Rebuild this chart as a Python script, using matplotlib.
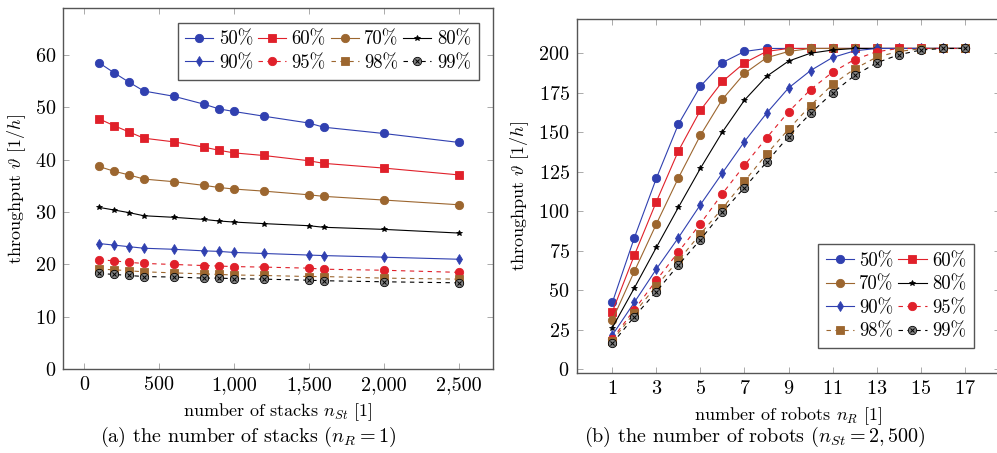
import matplotlib
matplotlib.use('Agg')
import matplotlib.pyplot as plt
from matplotlib.ticker import FuncFormatter

plt.rcParams['font.family'] = 'cmr10'
plt.rcParams['mathtext.fontset'] = 'cm'
plt.rcParams['axes.formatter.use_mathtext'] = True

# ---- data ----
labels = ['50%', '60%', '70%', '80%', '90%', '95%', '98%', '99%']

stacks = [100, 200, 300, 400, 600, 800, 900, 1000, 1200, 1500, 1600, 2000, 2500]
tp_stacks = [
    [58.5, 56.6, 54.8, 53.1, 52.1, 50.6, 49.7, 49.2, 48.3, 47.0, 46.2, 45.0, 43.3],
    [47.8, 46.5, 45.3, 44.1, 43.4, 42.4, 41.8, 41.3, 40.8, 39.8, 39.3, 38.4, 37.1],
    [38.7, 37.8, 37.1, 36.3, 35.8, 35.1, 34.7, 34.4, 34.0, 33.3, 33.0, 32.3, 31.4],
    [30.9, 30.4, 29.9, 29.3, 29.0, 28.6, 28.3, 28.1, 27.8, 27.4, 27.1, 26.7, 26.0],
    [24.0, 23.7, 23.4, 23.1, 22.9, 22.6, 22.5, 22.3, 22.1, 21.8, 21.7, 21.4, 21.0],
    [20.9, 20.7, 20.4, 20.2, 20.0, 19.8, 19.7, 19.6, 19.5, 19.3, 19.1, 18.9, 18.5],
    [19.1, 19.0, 18.8, 18.6, 18.4, 18.2, 18.1, 18.0, 17.9, 17.7, 17.7, 17.4, 17.2],
    [18.3, 18.1, 17.9, 17.7, 17.6, 17.4, 17.4, 17.3, 17.2, 17.0, 16.9, 16.7, 16.5],
]

robots = list(range(1, 18))
tp_robots = [
    [42.3, 83.3, 120.9, 155.1, 179.1, 194.1, 201.1, 203, 203, 203, 203, 203, 203, 203, 203, 203, 203],
    [36.4, 72.2, 106.1, 138.2, 163.9, 182.1, 193.9, 201.1, 203, 203, 203, 203, 203, 203, 203, 203, 203],
    [31.2, 62.0, 92.0, 121.1, 148.1, 170.9, 187.2, 197.1, 201.1, 203, 203, 203, 203, 203, 203, 203, 203],
    [26.4, 51.5, 77.2, 102.5, 127.2, 150.2, 170.3, 185.3, 195.0, 200.0, 202.0, 203, 203, 203, 203, 203, 203],
    [21.7, 42.4, 63.5, 83.3, 104.2, 124.3, 144.1, 162.0, 178.0, 189.0, 197.3, 201.5, 203, 203, 203, 203, 203],
    [19.3, 37.8, 56.4, 74.3, 92.2, 111.2, 129.1, 146.4, 162.9, 177.0, 188.0, 196.0, 200.9, 203, 203, 203, 203],
    [18.2, 35.8, 52.8, 69.0, 85.7, 101.9, 119.0, 136.1, 151.9, 166.9, 180.2, 190.1, 197.5, 201.1, 202.8, 203, 203],
    [16.4, 33.4, 49.2, 66.0, 82.1, 99.4, 115.0, 131.0, 147.3, 162.0, 174.9, 185.9, 193.9, 199.0, 202.0, 203, 203],
]

# ---- styles ----
blue = '#3040b0'
red = '#e0202a'
brown = '#9c662f'
dash = (0, (4, 4))
styles = [
    dict(color=blue, marker='o', ls='-', mfc=blue, mec=blue, ms=6),
    dict(color=red, marker='s', ls='-', mfc=red, mec=red, ms=5.5),
    dict(color=brown, marker='o', ls='-', mfc=brown, mec=brown, ms=6),
    dict(color='black', marker='*', ls='-', mfc='black', mec='black', ms=3.8),
    dict(color=blue, marker='d', ls='-', mfc=blue, mec=blue, ms=4.8),
    dict(color=red, marker='o', ls=dash, mfc=red, mec=red, ms=6),
    dict(color=brown, marker='s', ls=dash, mfc=brown, mec=brown, ms=5.5),
    dict(color='black', marker='o', ls=dash, mfc='#808080', mec='black', ms=6),
]


def draw(ax, xs, series):
    handles = []
    for ys, st, lab in zip(series, styles, labels):
        h, = ax.plot(xs, ys, lw=0.8, mew=0.6, label=lab, **st)
        if lab == '99%':
            hx, = ax.plot(xs, ys, ls='none', marker='x', ms=3.5, mew=0.7, color='black')
            h = (h, hx)
        handles.append(h)
    return handles


def style_axes(ax):
    for sp in ax.spines.values():
        sp.set_color('#555555')
        sp.set_linewidth(1.0)
    ax.tick_params(direction='in', top=True, right=True, length=4, width=0.7,
                   color='#aaaaaa', labelsize=14.5, pad=5)


def style_legend(leg):
    leg.get_frame().set_edgecolor('#555555')
    leg.get_frame().set_linewidth(1.0)


leg_kw = dict(fontsize=13.5, handlelength=1.5, handletextpad=0.3, columnspacing=0.25,
              labelspacing=0.3, borderpad=0.4, borderaxespad=0, fancybox=False,
              framealpha=1)

fig = plt.figure(figsize=(9.97, 4.53), dpi=100)

# left panel
ax1 = fig.add_axes([0.0635, 0.1848, 0.431, 0.797])
h1 = draw(ax1, stacks, tp_stacks)
ax1.set_xlim(-138, 2730)
ax1.set_ylim(0, 68.9)
ax1.set_xticks([0, 500, 1000, 1500, 2000, 2500])
ax1.set_yticks(range(0, 70, 10))
ax1.xaxis.set_major_formatter(FuncFormatter(lambda v, p: f'{int(v):,}'))
style_axes(ax1)
ax1.set_xlabel(r'number of stacks $n_{St}$ [1]', fontsize=13, labelpad=5)
ax1.set_ylabel(r'throughput $\vartheta$ [1/$h$]', fontsize=13, labelpad=5)
order1 = [0, 4, 1, 5, 2, 6, 3, 7]
leg1 = ax1.legend([h1[i] for i in order1], [labels[i] for i in order1], ncol=4,
                  loc='upper right', bbox_to_anchor=(0.967, 0.959), **leg_kw)
style_legend(leg1)

# right panel
ax2 = fig.add_axes([0.5784, 0.1766, 0.425, 0.781])
h2 = draw(ax2, robots, tp_robots)
ax2.set_xlim(-0.62, 18.62)
ax2.set_ylim(-2.3, 221.5)
ax2.set_xticks(range(1, 18, 2))
ax2.set_yticks(range(0, 201, 25))
style_axes(ax2)
ax2.set_xlabel(r'number of robots $n_R$ [1]', fontsize=13, labelpad=5)
ax2.set_ylabel(r'throughput $\vartheta$ [1/$h$]', fontsize=13, labelpad=5)
order2 = [0, 2, 4, 6, 1, 3, 5, 7]
leg2 = ax2.legend([h2[i] for i in order2], [labels[i] for i in order2], ncol=2,
                  loc='lower right', bbox_to_anchor=(0.9375, 0.0707), **leg_kw)
style_legend(leg2)

# captions
fig.text(248 / 997, 1 - 437 / 453, r'(a) the number of stacks ($n_R = 1$)',
         ha='center', va='center', fontsize=14.5)
fig.text(755 / 997, 1 - 437 / 453, r'(b) the number of robots ($n_{St} = 2,500$)',
         ha='center', va='center', fontsize=14.5)

fig.savefig('out.png', dpi=100)
